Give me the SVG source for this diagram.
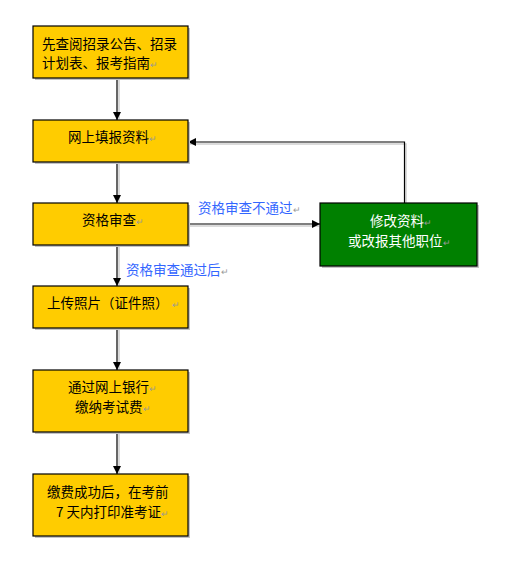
<svg xmlns="http://www.w3.org/2000/svg" width="512" height="568" viewBox="0 0 512 568">
<defs>
<style>
.box{fill:#FFCC00;stroke:#000;stroke-width:1.2}
.gbox{fill:#008000;stroke:#000;stroke-width:1.2}
.sh{fill:#c4c4c4}
.t{font-family:"Noto Sans CJK SC","Noto Sans",sans-serif;font-size:13.5px;fill:#000}
.w{fill:#fff}
.lb{fill:#3366FF}
.rm{font-size:9px;fill:#999}
.ln{fill:none;stroke:#000;stroke-width:1.2}
.lsh{fill:none;stroke:#d0d0d0;stroke-width:1.5}
</style>
<marker id="ah" viewBox="0 0 10 10" refX="10" refY="5" markerWidth="8" markerHeight="8" markerUnits="userSpaceOnUse" orient="auto">
<path d="M0,0 L10,5 L0,10 z" fill="#000"/>
</marker>
</defs>
<rect width="512" height="568" fill="#fff"/>
<g id="connectors">
<path class="lsh" d="M119,80 V119 M119,164 V202 M119,247 V285 M119,330 V369 M119,434 V473 M190,226 H319 M406,205 V144 H190"/>
<path class="ln" d="M117,78 V120" marker-end="url(#ah)"/>
<path class="ln" d="M117,162 V203" marker-end="url(#ah)"/>
<path class="ln" d="M117,245 V286" marker-end="url(#ah)"/>
<path class="ln" d="M117,328 V370" marker-end="url(#ah)"/>
<path class="ln" d="M117,432 V474" marker-end="url(#ah)"/>
<path class="ln" d="M188,224 H320" marker-end="url(#ah)"/>
<path class="ln" d="M404.5,203 V142 H188" marker-end="url(#ah)"/>
<text class="t lb" x="198" y="213">资格审查不通过<tspan class="rm">↵</tspan></text>
<text class="t lb" x="126" y="275">资格审查通过后<tspan class="rm">↵</tspan></text>
</g>
<g id="n1">
<rect class="sh" x="35" y="28" width="155" height="52"/>
<rect class="box" x="33" y="26" width="155" height="52"/>
<text class="t" x="42" y="48.5">先查阅招录公告、招录</text>
<text class="t" x="42" y="67.5">计划表、报考指南<tspan class="rm">↵</tspan></text>
</g>
<g id="n2">
<rect class="sh" x="35" y="122" width="155" height="42"/>
<rect class="box" x="33" y="120" width="155" height="42"/>
<text class="t" x="68" y="141.5">网上填报资料<tspan class="rm">↵</tspan></text>
</g>
<g id="n3">
<rect class="sh" x="35" y="205" width="155" height="42"/>
<rect class="box" x="33" y="203" width="155" height="42"/>
<text class="t" x="82" y="225">资格审查<tspan class="rm">↵</tspan></text>
</g>
<g id="n7">
<rect class="sh" x="322" y="205" width="157" height="63"/>
<rect class="gbox" x="320" y="203" width="157" height="63"/>
<text class="t w" x="370" y="225.5">修改资料<tspan class="rm">↵</tspan></text>
<text class="t w" x="348" y="245.5">或改报其他职位<tspan class="rm">↵</tspan></text>
</g>
<g id="n4">
<rect class="sh" x="35" y="288" width="155" height="42"/>
<rect class="box" x="33" y="286" width="155" height="42"/>
<text class="t" x="47" y="307.5">上传照片（证件照）<tspan class="rm" dx="3">↵</tspan></text>
</g>
<g id="n5">
<rect class="sh" x="35" y="372" width="155" height="62"/>
<rect class="box" x="33" y="370" width="155" height="62"/>
<text class="t" x="68" y="391.5">通过网上银行<tspan class="rm">↵</tspan></text>
<text class="t" x="75" y="411.5">缴纳考试费<tspan class="rm">↵</tspan></text>
</g>
<g id="n6">
<rect class="sh" x="35" y="476" width="155" height="62"/>
<rect class="box" x="33" y="474" width="155" height="62"/>
<text class="t" x="47" y="496.5">缴费成功后，在考前</text>
<text class="t" x="56" y="516.5">7 天内打印准考证<tspan class="rm">↵</tspan></text>
</g>
</svg>
